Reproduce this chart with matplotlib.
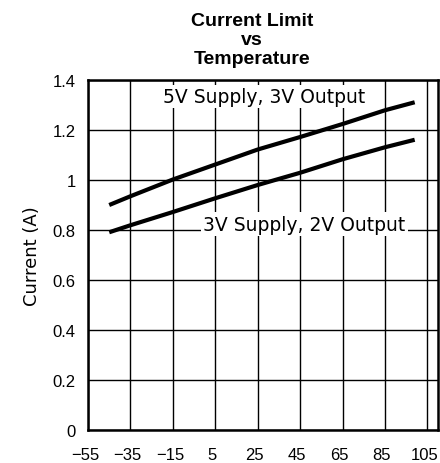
import matplotlib.pyplot as plt
import matplotlib.transforms as mtransforms

# temperature (C) and current limit (A)
temp = [-45, -35, -15, 5, 25, 45, 65, 85, 99]
i_5v3v = [0.90, 0.935, 1.002, 1.062, 1.122, 1.172, 1.224, 1.279, 1.311]
i_3v2v = [0.791, 0.819, 0.872, 0.927, 0.980, 1.029, 1.083, 1.131, 1.161]

xticks = [-55, -35, -15, 5, 25, 45, 65, 85, 105]
yticks = [0, 0.2, 0.4, 0.6, 0.8, 1.0, 1.2, 1.4]
yticklabels = ['0', '0.2', '0.4', '0.6', '0.8', '1', '1.2', '1.4']

fig = plt.figure(figsize=(4.4, 4.64), dpi=100)
ax = fig.add_axes([0.2, 0.0711, 0.7955, 0.7543])

ax.plot(temp, i_5v3v, color='black', lw=3, solid_capstyle='butt', zorder=3)
ax.plot(temp, i_3v2v, color='black', lw=3, solid_capstyle='butt', zorder=3)

ax.set_xlim(-55, 110)
ax.set_ylim(0, 1.4)
ax.set_xticks(xticks)
ax.set_xticklabels([str(t).replace('-', '\u2212') for t in xticks],
                   family='Liberation Sans', fontsize=12)
ax.set_yticks(yticks)
ax.set_yticklabels(yticklabels, family='Liberation Sans', fontsize=12)
ax.tick_params(length=0)
ax.tick_params(axis='x', pad=12)
ax.tick_params(axis='y', pad=9)
shift = mtransforms.ScaledTranslation(-3 / 100, 0, fig.dpi_scale_trans)
for lab in ax.get_xticklabels():
    lab.set_transform(lab.get_transform() + shift)
ax.grid(True, color='black', lw=1)
ax.set_axisbelow(True)
for s in ax.spines.values():
    s.set_linewidth(1.8)

ax.set_ylabel('Current (A)', fontsize=13, labelpad=8)

box = dict(facecolor='white', edgecolor='none', pad=1.5)
ax.text(28, 1.333, '5V Supply, 3V Output', ha='center', va='center',
        fontsize=13.5, bbox=box, zorder=2)
ax.text(47, 0.824, '3V Supply, 2V Output', ha='center', va='center',
        fontsize=13.5, bbox=box, zorder=2)

fig.text(252 / 440, 1 - 13 / 464, 'Current Limit\nvs\nTemperature',
         ha='center', va='top', fontsize=14, fontweight='bold',
         family='Liberation Sans', linespacing=1.15)

fig.savefig('out.png', dpi=100)
